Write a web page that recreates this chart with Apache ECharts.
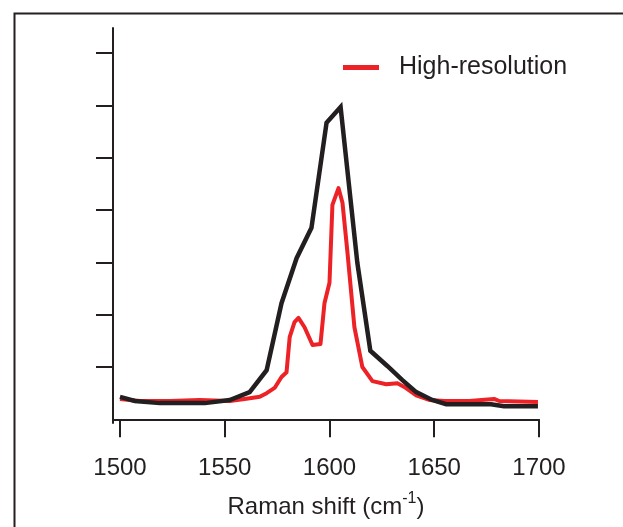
<!DOCTYPE html>
<html>
<head>
<meta charset="utf-8">
<script src="https://cdn.jsdelivr.net/npm/echarts@6/dist/echarts.min.js"></script>
<style>
html, body { margin: 0; padding: 0; background: #fff; }
#chart { width: 623px; height: 527px; }
</style>
</head>
<body>
<div id="chart"></div>
<script>
// Raman spectra - wavenumber (cm-1) vs intensity (arb.)
var highres_shift = [1500, 1509.5, 1523.8, 1538, 1552.4, 1559.5, 1566.7, 1570, 1573.8, 1577.1, 1579.5, 1581, 1583.3, 1585.2, 1588.1, 1591.9, 1595.7, 1597.6, 1600, 1601.4, 1604.3, 1606.2, 1608.6, 1611.9, 1615.7, 1620.5, 1627.1, 1632.4, 1635.7, 1641.4, 1647.6, 1654.8, 1666.7, 1678.6, 1681, 1699.5];
var highres_int = [0.39, 0.35, 0.35, 0.37, 0.35, 0.39, 0.43, 0.50, 0.60, 0.81, 0.90, 1.57, 1.86, 1.94, 1.76, 1.42, 1.44, 2.22, 2.61, 4.10, 4.42, 4.14, 3.18, 1.76, 1.00, 0.73, 0.67, 0.69, 0.62, 0.46, 0.37, 0.35, 0.35, 0.39, 0.35, 0.33];

var lowres_shift = [1500, 1507.1, 1519, 1540.5, 1552.4, 1561.9, 1570, 1577.1, 1584.3, 1591.4, 1598.6, 1605.3, 1613.3, 1619.5, 1627.6, 1634.8, 1641.4, 1649, 1655.7, 1677.1, 1683.3, 1699.5];
var lowres_int = [0.43, 0.35, 0.31, 0.31, 0.37, 0.52, 0.94, 2.22, 3.08, 3.66, 5.67, 5.97, 2.99, 1.31, 1.02, 0.75, 0.52, 0.37, 0.29, 0.29, 0.25, 0.25];

var x_ticks = [1500, 1550, 1600, 1650, 1700];
var y_ticks = [1, 2, 3, 4, 5, 6, 7];

function pairs(xs, ys) {
	var out = [];
	for (var i = 0; i < xs.length; i++) {
		out.push([xs[i], ys[i]]);
	}
	return out;
}

var ink = "#231f20";
var font = "Liberation Sans, Arial, sans-serif";
var chart = echarts.init(document.getElementById("chart"));
var option = {
	animation: false,
	textStyle: { fontFamily: font },
	graphic: [{
		type: "rect",
		left: 12, top: 11,
		shape: { width: 700, height: 600 },
		style: { fill: null, stroke: ink, lineWidth: 2 }
	}],
	grid: { left: 113, top: 28, right: 84, bottom: 104, outerBoundsMode: "none", containLabel: false },
	legend: {
		data: ["High-resolution"],
		left: 338, top: 50,
		icon: "rect",
		itemWidth: 36, itemHeight: 5,
		textStyle: { fontSize: 25, color: ink, fontFamily: font, padding: [0, 0, 0, 15] }
	},
	xAxis: {
		type: "value",
		min: 1496.67, max: 1700,
		axisLine: { lineStyle: { color: ink, width: 2 } },
		axisTick: { customValues: x_ticks, length: 18, lineStyle: { color: ink, width: 2 } },
		axisLabel: {
			customValues: x_ticks, fontSize: 24, color: ink, margin: 33,
			formatter: function (v) { return String(v); }
		},
		splitLine: { show: false },
		name: "{t|Raman shift (cm}{s|-1}{t|)}",
		nameLocation: "middle",
		nameGap: 68,
		nameTextStyle: {
			rich: {
				t: { fontSize: 24, color: ink, fontFamily: font },
				s: { fontSize: 16, color: ink, fontFamily: font, padding: [0, 0, 16, 0] }
			}
		}
	},
	yAxis: {
		type: "value",
		min: -0.07, max: 7.48,
		axisLine: { show: true, lineStyle: { color: ink, width: 2 } },
		axisTick: { show: true, customValues: y_ticks, length: 17, lineStyle: { color: ink, width: 2 } },
		axisLabel: { show: false },
		splitLine: { show: false }
	},
	series: [{
		name: "High-resolution",
		type: "line",
		data: pairs(highres_shift, highres_int),
		showSymbol: false,
		symbol: "none",
		itemStyle: { color: "#ec2227" },
		lineStyle: { color: "#ec2227", width: 4, join: "round" }
	}, {
		name: "Low-resolution",
		type: "line",
		data: pairs(lowres_shift, lowres_int),
		showSymbol: false,
		symbol: "none",
		itemStyle: { color: ink },
		lineStyle: { color: ink, width: 4.5, join: "miter" }
	}]
};
chart.setOption(option);
</script>
</body>
</html>
